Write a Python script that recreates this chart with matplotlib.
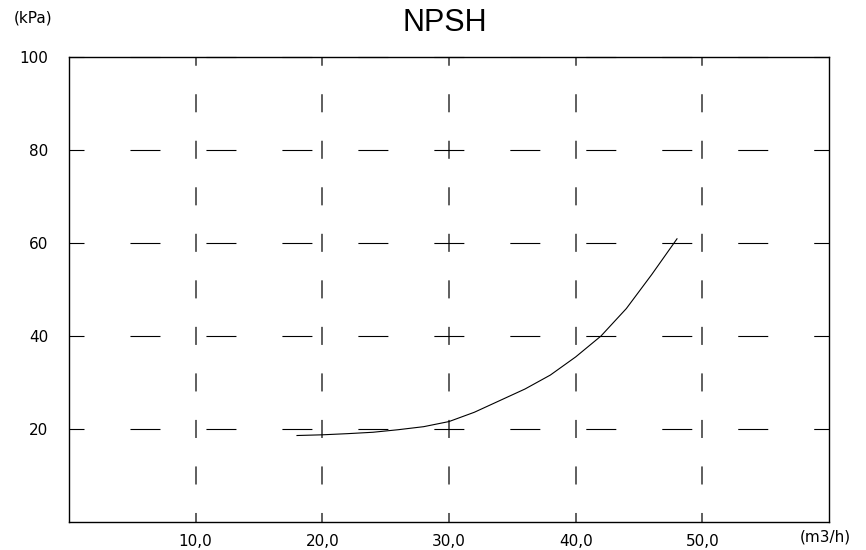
import matplotlib
matplotlib.use("Agg")
import matplotlib.pyplot as plt
from matplotlib.ticker import FuncFormatter

# --- data ---
flow = [18, 20, 22, 24, 26, 28, 30, 32, 34, 36, 38, 40, 42, 44, 46, 48]          # m3/h
npsh = [18.6, 18.75, 19.0, 19.3, 19.85, 20.5, 21.6, 23.6, 26.1, 28.6, 31.6,
        35.5, 40.0, 45.9, 53.2, 60.9]                                              # kPa
x_ticks = [10, 20, 30, 40, 50]
y_ticks = [20, 40, 60, 80, 100]

plt.rcParams['lines.scale_dashes'] = False
plt.rcParams['font.family'] = ['DejaVu Sans']

fig = plt.figure(figsize=(8.66, 5.5), dpi=100)
W, H = 866, 550
ax = fig.add_axes([69 / W, (H - 522) / H, 760 / W, 465 / H])

ax.plot(flow, npsh, color='black', linewidth=0.8)

ax.set_xlim(0, 60)
ax.set_ylim(0, 100)
ax.set_xticks(x_ticks)
ax.set_yticks(y_ticks)
ax.xaxis.set_major_formatter(FuncFormatter(lambda v, p: f"{v:.1f}".replace('.', ',')))
ax.yaxis.set_major_formatter(FuncFormatter(lambda v, p: f"{v:.0f}"))
ax.tick_params(length=0, labelsize=11, colors='black')
ax.tick_params(axis='x', pad=9)
ax.tick_params(axis='y', pad=15)

# dashed grid: horizontal dashes centred every 6 units, vertical every 10 units
ax.grid(axis='y', color='black', linewidth=0.8, linestyle=(10.8, (21.6, 33.1)))
ax.grid(axis='x', color='#333333', linewidth=1.1, linestyle=(6.5, (13.0, 20.5)))
for gl in ax.get_xgridlines() + ax.get_ygridlines():
    gl.set_clip_on(False)

for s in ax.spines.values():
    s.set_linewidth(1.0)
    s.set_color('black')

fig.text(445 / W, 1 - 23 / H, 'NPSH', ha='center', va='center',
         fontsize=22, family='Liberation Sans')
fig.text(33 / W, 1 - 18 / H, '(kPa)', ha='center', va='center', fontsize=11)
fig.text(825 / W, 1 - 537 / H, '(m3/h)', ha='center', va='center', fontsize=11)

fig.savefig('out.png', dpi=100)
